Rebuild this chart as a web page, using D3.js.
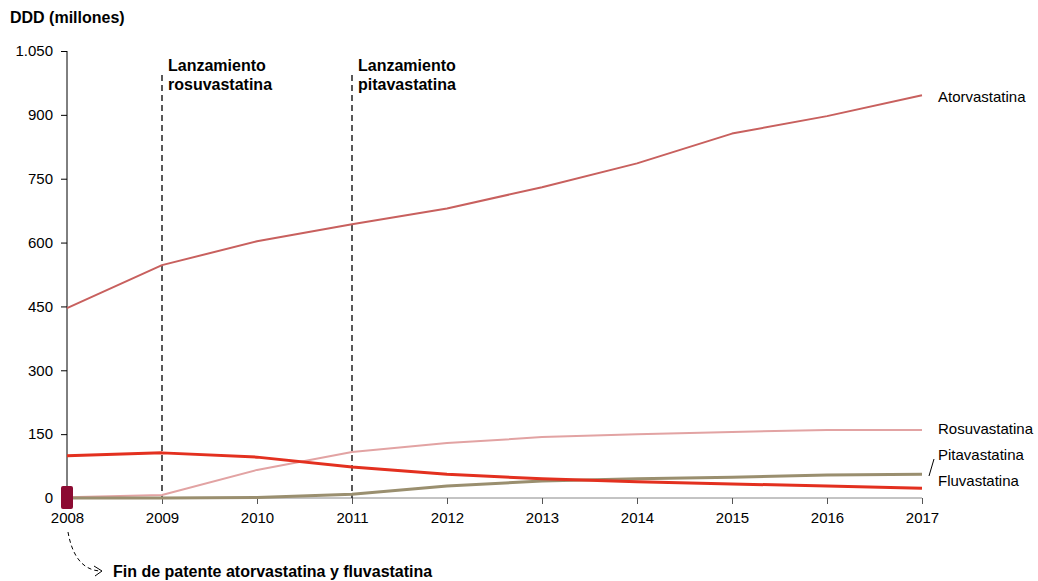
<!DOCTYPE html>
<html><head><meta charset="utf-8">
<script src="https://cdn.jsdelivr.net/npm/d3@7"></script>
<style>body{margin:0;background:#fff}svg{font-family:"Liberation Sans",Arial,sans-serif}</style>
</head><body><svg id="c" width="1038" height="581"></svg>
<script>
const years = [2008,2009,2010,2011,2012,2013,2014,2015,2016,2017];
const atorvastatina = [446,547,603,643,680,730,786,856,897,946];
const rosuvastatina = [2,7,66,108,129,143,150,155,160,160];
const fluvastatina = [99,106,96,73,56,45,38,33,28,23];
const pitavastatina = [0,0,1,9,28,40,45,49,54,56];
const yTicks = [0,150,300,450,600,750,900,1050];
const launches = [{year:2009,lines:["Lanzamiento","rosuvastatina"]},{year:2011,lines:["Lanzamiento","pitavastatina"]}];

const series = [
  {name:"Rosuvastatina", values:rosuvastatina, color:"#e2a3a3", w:2, ly:429},
  {name:"Atorvastatina", values:atorvastatina, color:"#c8605e", w:2, ly:97},
  {name:"Pitavastatina", values:pitavastatina, color:"#9a8f6f", w:3, ly:455},
  {name:"Fluvastatina", values:fluvastatina, color:"#e3301f", w:3, ly:481}
];

const svg = d3.select("#c");
const x = d3.scaleLinear().domain([2008,2017]).range([67,922]);
const y = d3.scaleLinear().domain([0,1050]).range([498,51]);
const fmt = d3.formatLocale({decimal:",",thousands:".",grouping:[3],currency:["","€"]}).format(",d");

// y axis
const ya = svg.append("g").attr("transform","translate(67,0)")
  .call(d3.axisLeft(y).tickValues(yTicks).tickFormat(fmt).tickSize(6).tickPadding(8));
ya.select(".domain").attr("stroke","#000").attr("d","M0,51V498");
ya.selectAll("text").attr("font-size",15).attr("fill","#000").attr("font-family","Liberation Sans, Arial, sans-serif");

// x axis
const xa = svg.append("g").attr("transform","translate(0,498)")
  .call(d3.axisBottom(x).tickValues(years).tickFormat(d3.format("d")).tickSize(6).tickPadding(8));
xa.select(".domain").attr("stroke","#888").attr("d","M67,0H922");
xa.selectAll(".tick line").attr("stroke","#555");
xa.selectAll("text").attr("font-size",15).attr("fill","#000").attr("font-family","Liberation Sans, Arial, sans-serif");

svg.append("text").attr("x",10).attr("y",23).attr("font-size",16).attr("font-weight","bold").text("DDD (millones)");

// launch lines
launches.forEach(l=>{
  svg.append("line").attr("x1",x(l.year)).attr("x2",x(l.year)).attr("y1",75).attr("y2",498)
    .attr("stroke","#000").attr("stroke-width",1.3).attr("stroke-dasharray","6,4");
  const t = svg.append("text").attr("x",x(l.year)+6).attr("y",71).attr("font-size",16).attr("font-weight","bold");
  l.lines.forEach((s,i)=>t.append("tspan").attr("x",x(l.year)+6).attr("dy",i?19:0).text(s));
});

// lines
const line = d3.line().x((d,i)=>x(years[i])).y(d=>y(d));
series.forEach(s=>{
  svg.append("path").attr("d",line(s.values)).attr("fill","none").attr("stroke",s.color).attr("stroke-width",s.w).attr("stroke-linejoin","round");
  svg.append("text").attr("x",938).attr("y",s.ly+5).attr("font-size",15).text(s.name);
});
// leader line for Pitavastatina
svg.append("line").attr("x1",929).attr("y1",476).attr("x2",934).attr("y2",459).attr("stroke","#000").attr("stroke-width",1);

// patent marker
svg.append("rect").attr("x",x(2008)-6).attr("y",y(0)-12).attr("width",12).attr("height",23).attr("rx",2).attr("fill","#8c0a32");

// dashed arrow
svg.append("path").attr("d","M68,532 C72,555 82,570 100,571").attr("fill","none").attr("stroke","#000").attr("stroke-width",1).attr("stroke-dasharray","4,3");
svg.append("path").attr("d","M94,566 L102,571 L95,576").attr("fill","none").attr("stroke","#000").attr("stroke-width",1);
svg.append("text").attr("x",113).attr("y",577).attr("font-size",16).attr("font-weight","bold").text("Fin de patente atorvastatina y fluvastatina");
</script></body></html>
